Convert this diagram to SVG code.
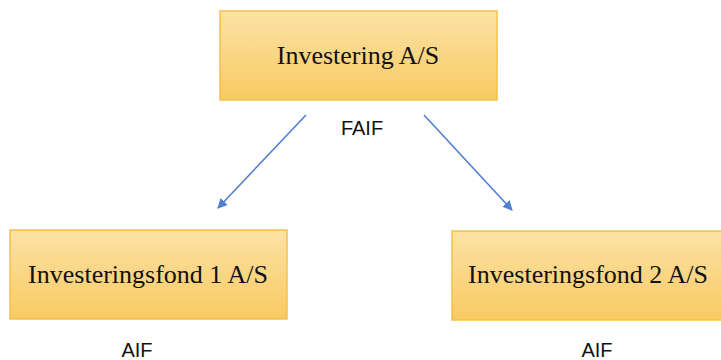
<svg xmlns="http://www.w3.org/2000/svg" width="721" height="360" viewBox="0 0 721 360">
<style>
.box{fill:url(#g);stroke:#F4C04A;stroke-width:1.5}
.serif{font-family:"Liberation Serif","Times New Roman",serif;font-size:26px;fill:#111;text-anchor:middle}
.sans{font-family:"Liberation Sans",Arial,sans-serif;font-size:20px;fill:#111;text-anchor:middle}
.conn{stroke:#4F7FD0;stroke-width:1.6;fill:none;marker-end:url(#ah)}
</style>
<defs>
<linearGradient id="g" x1="0" y1="0" x2="0" y2="1">
<stop offset="0" stop-color="#FCE2A6"/>
<stop offset="1" stop-color="#F8CA62"/>
</linearGradient>
<marker id="ah" viewBox="0 0 10 10" refX="9" refY="5" markerWidth="10" markerHeight="10" markerUnits="userSpaceOnUse" orient="auto">
<path d="M0,0 L10,5 L0,10 z" fill="#4F7FD0"/>
</marker>
</defs>
<rect width="721" height="360" fill="#fff"/>
<g id="connectors">
<line class="conn" x1="306" y1="115" x2="218" y2="208"/>
<line class="conn" x1="424" y1="115" x2="512" y2="210"/>
</g>
<g id="investering">
<rect class="box" x="220" y="11" width="277" height="89"/>
<text class="serif" x="358" y="64">Investering A/S</text>
<text class="sans" x="362" y="135">FAIF</text>
</g>
<g id="fond1">
<rect class="box" x="10" y="230" width="277" height="89"/>
<text class="serif" x="148" y="283">Investeringsfond 1 A/S</text>
<text class="sans" x="137" y="357">AIF</text>
</g>
<g id="fond2">
<rect class="box" x="452" y="231" width="277" height="89"/>
<text class="serif" x="588" y="283">Investeringsfond 2 A/S</text>
<text class="sans" x="597" y="357">AIF</text>
</g>
</svg>
